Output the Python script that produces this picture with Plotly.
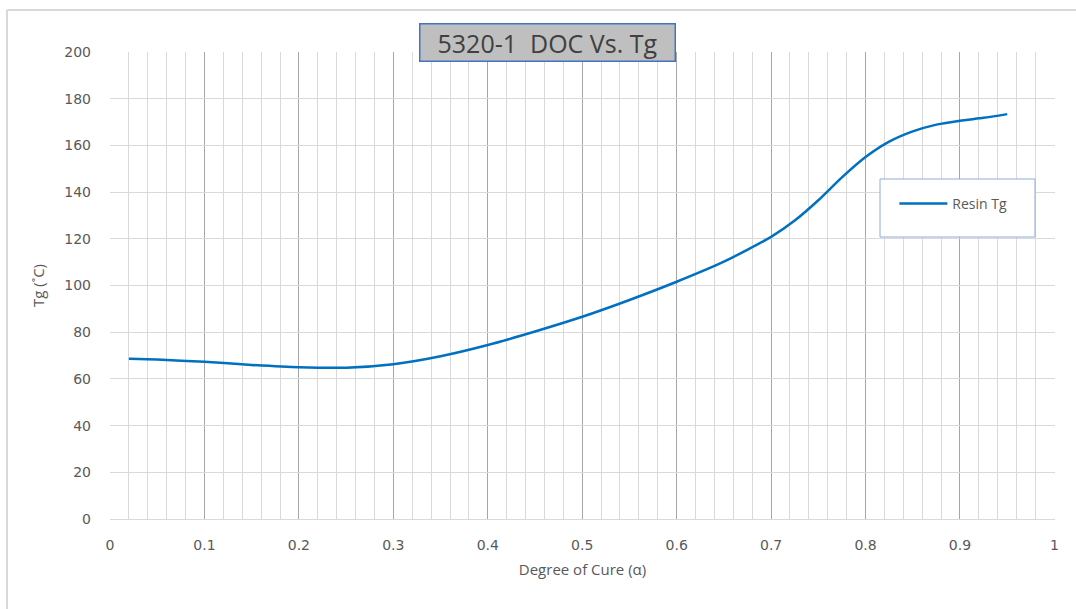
import plotly.graph_objects as go

doc = [0.02, 0.05, 0.10, 0.15, 0.20, 0.25, 0.30, 0.35, 0.40, 0.45, 0.50,
       0.55, 0.60, 0.65, 0.70, 0.725, 0.75, 0.775, 0.80, 0.825, 0.85,
       0.875, 0.90, 0.925, 0.95]
tg = [68.6, 68.3, 67.3, 66.0, 65.0, 64.8, 66.3, 69.7, 74.5, 80.3, 86.6,
      93.8, 101.6, 110.2, 120.8, 127.8, 136.5, 146.3, 155.0, 161.6, 166.0,
      168.9, 170.6, 171.8, 173.4]

x_ticks = [0, 0.1, 0.2, 0.3, 0.4, 0.5, 0.6, 0.7, 0.8, 0.9, 1]
x_ticklabels = ["0", "0.1", "0.2", "0.3", "0.4", "0.5", "0.6", "0.7", "0.8", "0.9", "1"]

series_name = "Resin Tg"
title_text = "5320-1  DOC Vs. Tg"
x_title = "Degree of Cure (α)"
y_title = "Tg (˚C)"

grey_txt = "#595959"
font_main = "Open Sans"

fig = go.Figure()
fig.add_trace(go.Scatter(
    x=doc, y=tg, mode="lines", name=series_name,
    line=dict(color="#0070c0", width=2.5, shape="spline", smoothing=0.6),
))

fig.update_layout(
    width=1076, height=609,
    margin=dict(l=110, r=21, t=52, b=90),
    paper_bgcolor="white", plot_bgcolor="white",
    showlegend=True,
    legend=dict(x=0.83, y=0.675, xanchor="left", yanchor="middle",
                bgcolor="rgba(0,0,0,0)", borderwidth=0, itemwidth=48,
                font=dict(family=font_main, size=14, color=grey_txt)),
    xaxis=dict(
        range=[0, 1.0006], tickvals=x_ticks, ticktext=x_ticklabels,
        showgrid=True, gridcolor="#a6a6a6", gridwidth=1,
        minor=dict(dtick=0.02, tick0=0, showgrid=True, gridcolor="#d9d9d9", gridwidth=1),
        zeroline=False, showline=True, linecolor="#d9d9d9", linewidth=1,
        ticks="", ticklabelstandoff=13,
        tickfont=dict(family="DejaVu Sans", size=14, color=grey_txt),
        title=dict(text=x_title, standoff=12,
                   font=dict(family=font_main, size=15, color=grey_txt)),
    ),
    yaxis=dict(
        range=[0, 200], dtick=20,
        showgrid=True, gridcolor="#d9d9d9", gridwidth=1,
        zeroline=False, showline=False, ticks="",
        ticklabelstandoff=18,
        tickfont=dict(family="DejaVu Sans", size=14, color=grey_txt),
        title=dict(text=y_title, standoff=16,
                   font=dict(family=font_main, size=15, color=grey_txt)),
    ),
)

# title box
fig.add_annotation(
    text=title_text, xref="paper", yref="paper",
    x=(547.5 - 110) / 945, y=(519 - 42) / 467,
    xanchor="center", yanchor="middle", showarrow=False,
    width=252, align="center",
    font=dict(family=font_main, size=25, color="#404040"),
    bgcolor="#bfbfbf", bordercolor="#4472c4", borderwidth=1.5, borderpad=1,
)

# legend frame
fig.add_shape(type="rect", xref="paper", yref="paper",
              x0=(880 - 110) / 945, x1=(1035 - 110) / 945,
              y0=(519 - 237) / 467, y1=(519 - 179) / 467,
              line=dict(color="#8eaadb", width=1), fillcolor="white",
              layer="above")

# chart area border (left and top)
fig.add_shape(type="line", xref="paper", yref="paper",
              x0=(7 - 110) / 945, x1=(7 - 110) / 945,
              y0=(519 - 620) / 467, y1=(519 - 10) / 467,
              line=dict(color="#d9d9d9", width=2))
fig.add_shape(type="line", xref="paper", yref="paper",
              x0=(7 - 110) / 945, x1=(1090 - 110) / 945,
              y0=(519 - 10) / 467, y1=(519 - 10) / 467,
              line=dict(color="#d9d9d9", width=2))

fig.write_html("out.html")
